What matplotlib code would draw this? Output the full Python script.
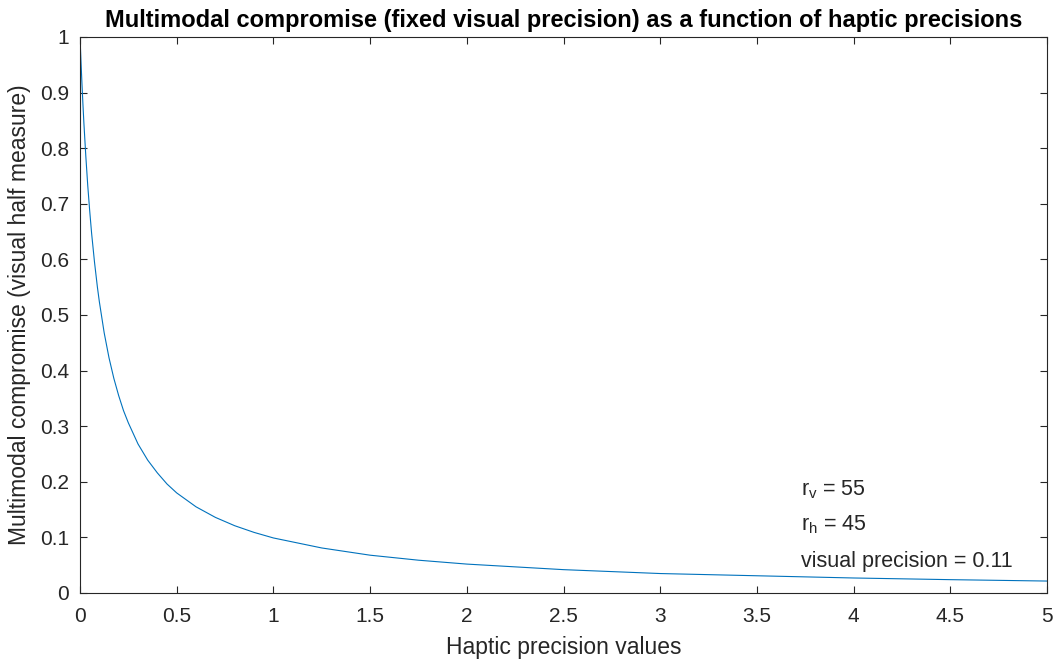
import matplotlib
matplotlib.use("Agg")
import matplotlib.pyplot as plt

plt.rcParams['font.family'] = ['Liberation Sans', 'DejaVu Sans']

# haptic precision values and multimodal compromise
haptic = [0, 0.005, 0.01, 0.015, 0.02, 0.03, 0.04, 0.05, 0.06, 0.075, 0.09,
          0.1, 0.125, 0.15, 0.175, 0.2, 0.225, 0.25, 0.3, 0.35, 0.4, 0.45,
          0.5, 0.6, 0.7, 0.8, 0.9, 1.0, 1.25, 1.5, 1.75, 2.0, 2.5, 3.0,
          3.5, 4.0, 4.5, 5.0]
compromise = [1.0, 0.957, 0.917, 0.880, 0.846, 0.786, 0.733, 0.688, 0.647,
              0.595, 0.550, 0.524, 0.468, 0.423, 0.386, 0.355, 0.328, 0.306,
              0.268, 0.239, 0.216, 0.196, 0.180, 0.155, 0.136, 0.121, 0.109,
              0.099, 0.081, 0.068, 0.059, 0.052, 0.042, 0.035, 0.031, 0.027,
              0.024, 0.0215]

notes = ['$\\mathregular{r_v}$ = 55', '$\\mathregular{r_h}$ = 45',
         'visual precision = 0.11']
note_y = [0.185, 0.122, 0.056]

fig = plt.figure(figsize=(10.55, 6.69), dpi=100)
ax = fig.add_axes([80 / 1055, 1 - 593 / 669, 967 / 1055, 556 / 669])

ax.plot(haptic, compromise, color='#0072BD', lw=0.8)

ax.set_xlim(0, 5)
ax.set_ylim(0, 1)
ax.set_xticks([0, 0.5, 1, 1.5, 2, 2.5, 3, 3.5, 4, 4.5, 5])
ax.set_xticklabels(['0', '0.5', '1', '1.5', '2', '2.5', '3', '3.5', '4', '4.5', '5'])
ax.set_yticks([i / 10 for i in range(11)])
ax.set_yticklabels(['0', '0.1', '0.2', '0.3', '0.4', '0.5', '0.6', '0.7', '0.8', '0.9', '1'])

ax.tick_params(direction='in', top=True, right=True, length=5, width=0.8,
               colors='#262626', labelsize=15)
ax.tick_params(axis='x', pad=10)
ax.tick_params(axis='y', pad=8)
for s in ax.spines.values():
    s.set_color('#262626')
    s.set_linewidth(0.8)

ax.set_xlabel('Haptic precision values', fontsize=16.5, color='#262626', labelpad=7)
ax.set_ylabel('Multimodal compromise (visual half measure)', fontsize=16.5,
              color='#262626', labelpad=6)
ax.set_title('Multimodal compromise (fixed visual precision) as a function of haptic precisions',
             fontsize=17, fontweight='bold', pad=7)

for txt, yy in zip(notes, note_y):
    ax.text(3.73, yy, txt, fontsize=15.5, color='#262626', va='center')

fig.savefig('out.png', dpi=100)
